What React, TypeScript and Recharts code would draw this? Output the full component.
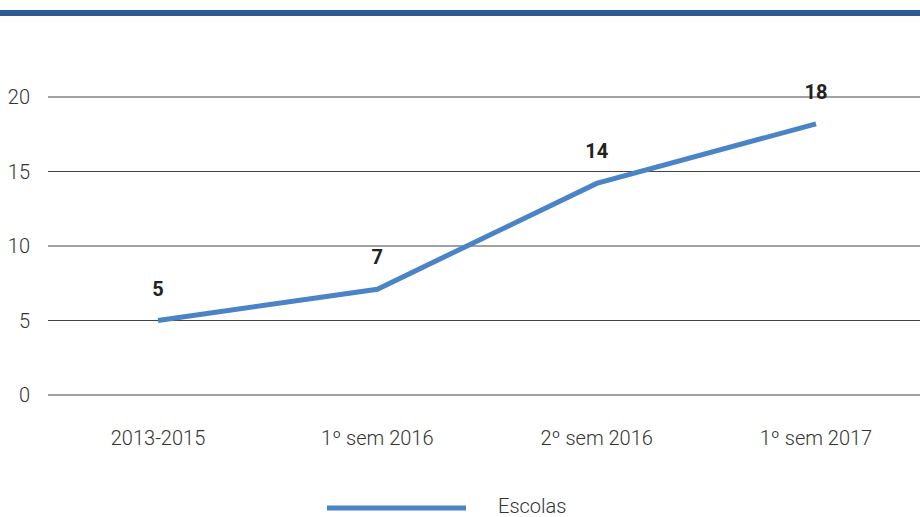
import React from 'react';
import { LineChart, Line, XAxis, YAxis, CartesianGrid, LabelList } from 'recharts';

const periods = ['2013-2015', '1º sem 2016', '2º sem 2016', '1º sem 2017'];
const escolas = [5, 7.1, 14.2, 18.2];
const yTicks = [0, 5, 10, 15, 20];

const data = periods.map((p, i) => ({ period: p, escolas: escolas[i] }));

const FONT = 'Roboto, "Open Sans", sans-serif';
const BLUE = '#4a84c6';

const PointLabel = (props: any) => {
  const { x, y, value } = props;
  return (
    <text x={x} y={y - 25} textAnchor="middle" fill="#222" fontSize={20} fontWeight={700} fontFamily={FONT}>
      {Math.round(value)}
    </text>
  );
};

const App: React.FC = () => {
  return (
    <div style={{ position: 'absolute', left: 0, top: 0, width: 920, height: 517, overflow: 'hidden', background: '#fff' }}>
      {/* top rule */}
      <div style={{ position: 'absolute', left: 0, top: 10, width: 920, height: 6, background: '#2f5b95' }} />

      <LineChart width={930} height={517} data={data} margin={{ top: 97, right: 4, left: 0, bottom: 92 }}>
        <CartesianGrid horizontal vertical={false} stroke="#444" strokeWidth={1} />
        <XAxis
          dataKey="period"
          axisLine={false}
          tickLine={false}
          height={30}
          padding={{ left: 110, right: 110 }}
          tickMargin={30}
          tick={{ fill: '#333', fontSize: 20, fontWeight: 300, fontFamily: FONT }}
        />
        <YAxis
          domain={[0, 20]}
          ticks={yTicks}
          width={48}
          axisLine={false}
          tickLine={false}
          tickMargin={12}
          tick={{ fill: '#333', fontSize: 20, fontWeight: 300, fontFamily: FONT }}
        />
        <Line
          type="linear"
          dataKey="escolas"
          stroke={BLUE}
          strokeWidth={5}
          dot={false}
          activeDot={false}
          isAnimationActive={false}
        >
          <LabelList dataKey="escolas" content={PointLabel} />
        </Line>
      </LineChart>

      {/* legend */}
      <svg style={{ position: 'absolute', left: 0, top: 480 }} width={920} height={37}>
        <line x1={327} x2={466} y1={28} y2={28} stroke={BLUE} strokeWidth={5} />
        <text x={498} y={33} fill="#333" fontSize={20} fontWeight={300} fontFamily={FONT}>Escolas</text>
      </svg>
    </div>
  );
};

export default App;
